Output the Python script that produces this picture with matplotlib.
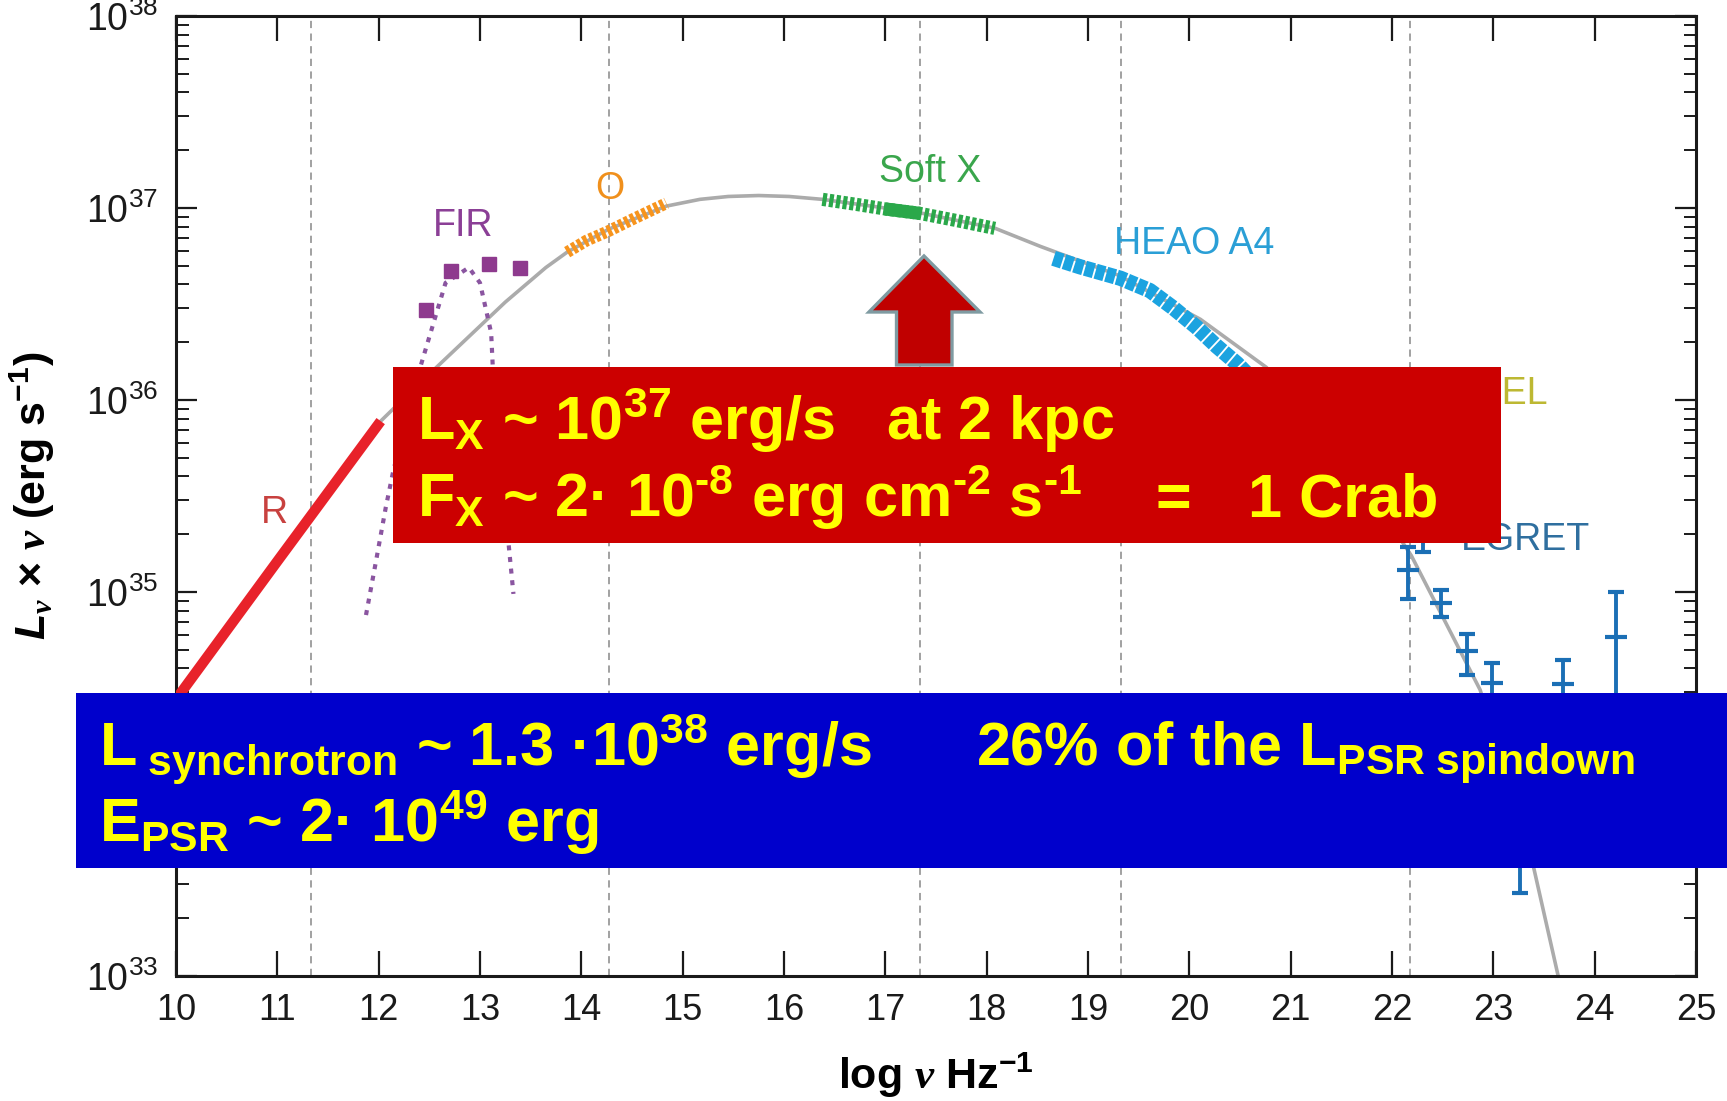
import numpy as np
import matplotlib
matplotlib.use("Agg")
import matplotlib.pyplot as plt
from matplotlib.patches import Rectangle, Polygon
from matplotlib.ticker import FixedLocator, LogLocator, NullFormatter, NullLocator, FuncFormatter

plt.rcParams['font.family'] = ['Liberation Sans', 'DejaVu Sans']
plt.rcParams['mathtext.fontset'] = 'custom'
plt.rcParams['mathtext.rm'] = 'Liberation Sans'
plt.rcParams['mathtext.bf'] = 'Liberation Sans:bold'
plt.rcParams['mathtext.it'] = 'Liberation Serif:italic:bold'
plt.rcParams['mathtext.sf'] = 'Liberation Sans:italic:bold'
plt.rcParams['mathtext.default'] = 'regular'

# spectral energy distribution, log(nu / Hz) vs log(L_nu * nu / erg s^-1)
fit_lognu = [12.02, 12.35, 12.67, 13.07, 13.25, 13.45, 13.65, 13.86, 14.27, 14.84,
             15.17, 15.45, 15.75, 16.05, 16.38, 17.34, 18.08, 18.53, 19.30, 20.11,
             20.76, 21.20, 21.70, 22.19, 22.87, 23.40, 23.64, 23.75]
fit_logL = [35.89, 36.06, 36.22, 36.42, 36.51, 36.60, 36.69, 36.77, 36.89, 37.01,
            37.045, 37.06, 37.065, 37.06, 37.045, 36.975, 36.895, 36.80, 36.65, 36.42,
            36.17, 35.91, 35.58, 35.19, 34.49, 33.56, 33.00, 32.70]

radio_lognu = [10.0, 11.0, 12.02]
radio_logL = [34.44, 35.16, 35.89]

fir_lognu = [12.47, 12.71, 13.09, 13.39]
fir_logL = [36.47, 36.67, 36.71, 36.69]

dust_lognu = [11.875, 11.97, 12.07, 12.14, 12.27, 12.41, 12.66, 12.89, 13.00, 13.11,
              13.15, 13.24, 13.33]
dust_logL = [34.88, 35.15, 35.44, 35.62, 35.90, 36.17, 36.61, 36.69, 36.61, 36.35,
             35.91, 35.48, 34.99]

optical_lognu = [13.86, 14.05, 14.27, 14.50, 14.84]
optical_logL = [36.77, 36.83, 36.88, 36.94, 37.025]

softx_lognu = [16.38, 16.70, 17.00, 17.34, 17.70, 18.08]
softx_logL = [37.045, 37.02, 36.995, 36.972, 36.935, 36.894]

heao_lognu = [18.66, 18.92, 19.32, 19.61, 19.84, 20.07, 20.27, 20.47, 20.60]
heao_logL = [36.738, 36.694, 36.634, 36.57, 36.48, 36.38, 36.28, 36.19, 36.12]

comptel_lognu = [21.20, 21.50, 21.80]
comptel_logL = [35.85, 35.65, 35.42]
comptel_err = [0.17, 0.15, 0.15]

egret_lognu = [22.16, 22.31, 22.48, 22.74, 22.99, 23.26, 23.685, 24.21]
egret_logL = [35.115, 35.31, 34.944, 34.694, 34.524, 33.80, 34.519, 34.767]
egret_lo = [34.962, 35.21, 34.868, 34.568, 34.36, 33.43, 34.36, 34.30]
egret_hi = [35.236, 35.41, 35.010, 34.780, 34.629, 34.15, 34.646, 35.00]

band_edges = [11.33, 14.27, 17.34, 19.33, 22.18]

W, H = 1727, 1101
fig = plt.figure(figsize=(W / 100, H / 100), dpi=100)
ax = fig.add_axes([176 / W, 1 - 976 / H, 1520 / W, 960 / H])
ax.set_yscale('log')
ax.set_xlim(10, 25)
ax.set_ylim(1e33, 1e38)


def lum(v):
    return 10.0 ** np.asarray(v)


for xe in band_edges:
    ax.axvline(xe, color='#9a9a9a', lw=1.3, ls=(0, (4, 3)), zorder=1)

ax.plot(fit_lognu, lum(fit_logL), color='#ababab', lw=2.6, zorder=2)

ax.plot(radio_lognu, lum(radio_logL), color='#e8222a', lw=7.5, solid_capstyle='butt', zorder=3)

ax.plot(dust_lognu, lum(dust_logL), color='#8a55a0', lw=3, ls=(0, (1.2, 1.6)), zorder=3)
ax.plot(fir_lognu, lum(fir_logL), 's', color='#8e3a8e', ms=9.5, zorder=4)

# instrument bands drawn as closely spaced vertical bars
ax.plot(optical_lognu, lum(optical_logL), color='#f7941d', lw=8.5,
        ls=(0, (0.35, 0.2)), dash_capstyle='butt', zorder=3)
ax.plot(softx_lognu, lum(softx_logL), color='#2aa84a', lw=9.5,
        ls=(0, (0.32, 0.2)), dash_capstyle='butt', zorder=3)
ax.plot(softx_lognu[2:4], lum(softx_logL[2:4]), color='#2aa84a', lw=9.5,
        solid_capstyle='butt', zorder=3)
ax.plot(heao_lognu, lum(heao_logL), color='#1ba3e0', lw=11,
        ls=(0, (0.6, 0.12)), dash_capstyle='butt', zorder=3)

ax.errorbar(comptel_lognu, lum(comptel_logL),
            yerr=[lum(comptel_logL) - lum(np.subtract(comptel_logL, comptel_err)),
                  lum(np.add(comptel_logL, comptel_err)) - lum(comptel_logL)],
            fmt='_', ms=14, mew=3, color='#bdb832', elinewidth=2.5,
            capsize=5, capthick=3, zorder=4)

ax.errorbar(egret_lognu, lum(egret_logL),
            yerr=[lum(egret_logL) - lum(egret_lo), lum(egret_hi) - lum(egret_logL)],
            fmt='_', ms=16, mew=3, color='#1b6fb5', elinewidth=2.8,
            capsize=5.5, capthick=3, zorder=4)

label_kw = dict(fontsize=27, ha='center', va='center', zorder=5)
ax.text(10.97, lum(35.41), 'R', color='#c8413f', **label_kw)
ax.text(12.83, lum(36.907), 'FIR', color='#8b3f96', **label_kw)
ax.text(14.28, lum(37.10), 'O', color='#f0901c', **label_kw)
ax.text(17.44, lum(37.19), 'Soft X', color='#3aa64c', **label_kw)
ax.text(20.05, lum(36.81), 'HEAO A4', color='#2a9fd6', **label_kw)
ax.text(22.64, lum(36.03), 'COMPTEL', color='#bdb832', **label_kw)
ax.text(23.32, lum(35.27), 'EGRET', color='#2f6f9f', **label_kw)


def decade_label(v, pos):
    e = int(round(np.log10(v)))
    if e == 34:  # sits under the blue note
        return ''
    return r'$\mathdefault{10^{%d}}$' % e


ax.xaxis.set_major_locator(FixedLocator(range(10, 26)))
ax.xaxis.set_minor_locator(NullLocator())
ax.yaxis.set_major_locator(LogLocator(base=10, numticks=10))
ax.yaxis.set_major_formatter(FuncFormatter(decade_label))
ax.yaxis.set_minor_locator(LogLocator(base=10, subs=np.arange(2, 10), numticks=10))
ax.yaxis.set_minor_formatter(NullFormatter())
ax.tick_params(which='both', direction='in', top=True, right=True, colors='#1a1a1a')
ax.tick_params(axis='x', which='major', length=18, width=1.6, labelsize=26, pad=12)
ax.tick_params(axis='y', which='major', length=15, width=1.6, labelsize=27, pad=13)
ax.tick_params(axis='y', which='minor', length=9, width=1.4)
for sp in ax.spines.values():
    sp.set_linewidth(2.2)
    sp.set_color('#1a1a1a')

ax.set_xlabel(r'log $\mathit{\nu}$ Hz$^{-1}$', fontsize=31, fontweight='bold')
ax.xaxis.set_label_coords(0.5, -0.078)
ax.set_ylabel(r'$\mathsf{L}_{\mathit{\nu}}$ × $\mathit{\nu}$ (erg s$^{-1}$)',
              fontsize=31, fontweight='bold')
ax.yaxis.set_label_coords(-0.078, 0.5)

# overlay: X-ray luminosity note with arrow
arrow_px = [(924, 256), (980, 312), (952, 312), (952, 365), (896.5, 365),
            (896.5, 312), (869, 312)]
fig.add_artist(Polygon([(x / W, 1 - y / H) for x, y in arrow_px], closed=True,
                       transform=fig.transFigure, facecolor='#c00000',
                       edgecolor='#7f9ba2', lw=2.4, joinstyle='miter', zorder=2))
fig.add_artist(Rectangle((393 / W, 1 - 543 / H), 1108 / W, 176 / H,
                         transform=fig.transFigure, facecolor='#cc0000',
                         edgecolor='none', zorder=3))
fig.add_artist(Rectangle((76 / W, 1 - 868 / H), 1 - 76 / W, 175 / H,
                         transform=fig.transFigure, facecolor='#0000cc',
                         edgecolor='none', zorder=3))

box_kw = dict(color='#ffff00', fontsize=44, fontweight='bold', va='baseline',
              ha='left', zorder=4)


def note(xp, yp, s, **kw):
    fig.text(xp / W, 1 - yp / H, s, **{**box_kw, **kw})


note(417, 440, r'L$_X$ ~ 10$^{37}$ erg/s   at 2 kpc')
note(417, 517, 'F$_X$ ~ 2· 10$^{\u20108}$ erg cm$^{\u20102}$ s$^{\u20101}$')
note(1156, 517, '=')
note(1248, 517, '1 Crab')
note(99, 765, r'L$_{\ synchrotron}$ ~ 1.3 ·10$^{38}$ erg/s')
note(976, 765, r'26% of the L$_{PSR\ spindown}$')
note(99, 842, r'E$_{PSR}$ ~ 2· 10$^{49}$ erg')

fig.savefig('out.png', dpi=100)
